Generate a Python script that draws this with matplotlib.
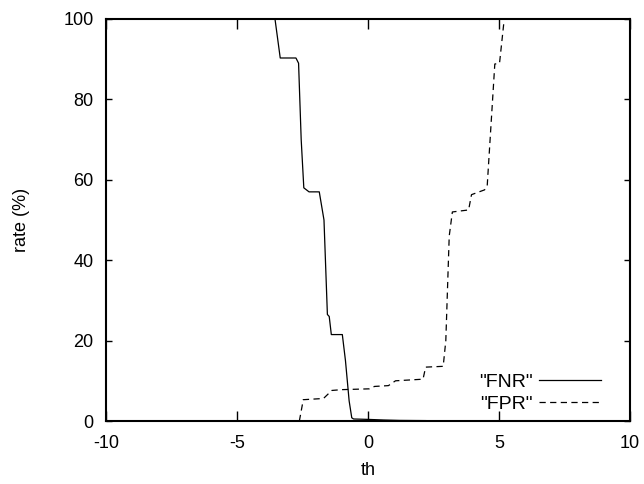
import numpy as np
import matplotlib
matplotlib.use("Agg")
import matplotlib.pyplot as plt

plt.rcParams['font.family'] = ['Liberation Sans', 'DejaVu Sans']
plt.rcParams['axes.unicode_minus'] = False

# false negative rate vs threshold
fnr_th = [-10, -3.55, -3.35, -2.75, -2.65, -2.55, -2.45, -2.25, -1.86, -1.68,
          -1.55, -1.48, -1.40, -0.98, -0.86, -0.72, -0.62, -0.55, 0.0, 0.6, 1.2, 2.2]
fnr = [100, 100, 90.3, 90.3, 89.0, 70.0, 58.0, 57.0, 57.0, 50.0,
       26.5, 26.0, 21.5, 21.5, 15.0, 5.0, 0.8, 0.5, 0.4, 0.25, 0.15, 0.1]

# false positive rate vs threshold
fpr_th = [-2.62, -2.47, -1.70, -1.38, -1.0, 0.05, 0.25, 0.78, 1.05, 2.10,
          2.20, 2.87, 2.97, 3.10, 3.22, 3.84, 3.95, 4.45, 4.55, 4.84, 5.02, 5.20, 10]
fpr = [0, 5.3, 5.6, 7.6, 7.8, 8.0, 8.6, 8.8, 10.0, 10.4,
       13.4, 13.6, 20.0, 46.0, 52.0, 52.5, 56.3, 57.5, 58.5, 88.8, 89.0, 100, 100]

fig = plt.figure(figsize=(6.44, 4.84), dpi=100)
ax = fig.add_axes([106/644, 1 - 421/484, (630-106)/644, (421-19)/484])

ax.plot(fnr_th, fnr, color='black', lw=0.9, label='"FNR"')
ax.plot(fpr_th, fpr, color='black', lw=0.9, dashes=(5, 3.5), label='"FPR"')

ax.set_xlim(-10, 10)
ax.set_ylim(0, 100)
ax.set_xticks([-10, -5, 0, 5, 10])
ax.set_yticks([0, 20, 40, 60, 80, 100])
ax.tick_params(direction='in', top=True, right=True, width=1, labelsize=13)
ax.tick_params(axis='x', length=7, pad=10)
ax.tick_params(axis='y', length=4, pad=9)
for s in ax.spines.values():
    s.set_linewidth(1.5)

ax.set_xlabel('th', fontsize=13, labelpad=7)
ax.set_ylabel('rate (%)', fontsize=13, labelpad=24)

ax.legend(loc='lower right', bbox_to_anchor=((601-106)/524, 0.02), markerfirst=False,
          frameon=False, fontsize=14, handlelength=3.2, handletextpad=0.3,
          labelspacing=0.22, borderaxespad=0, borderpad=0)

fig.savefig('out.png', dpi=100)
